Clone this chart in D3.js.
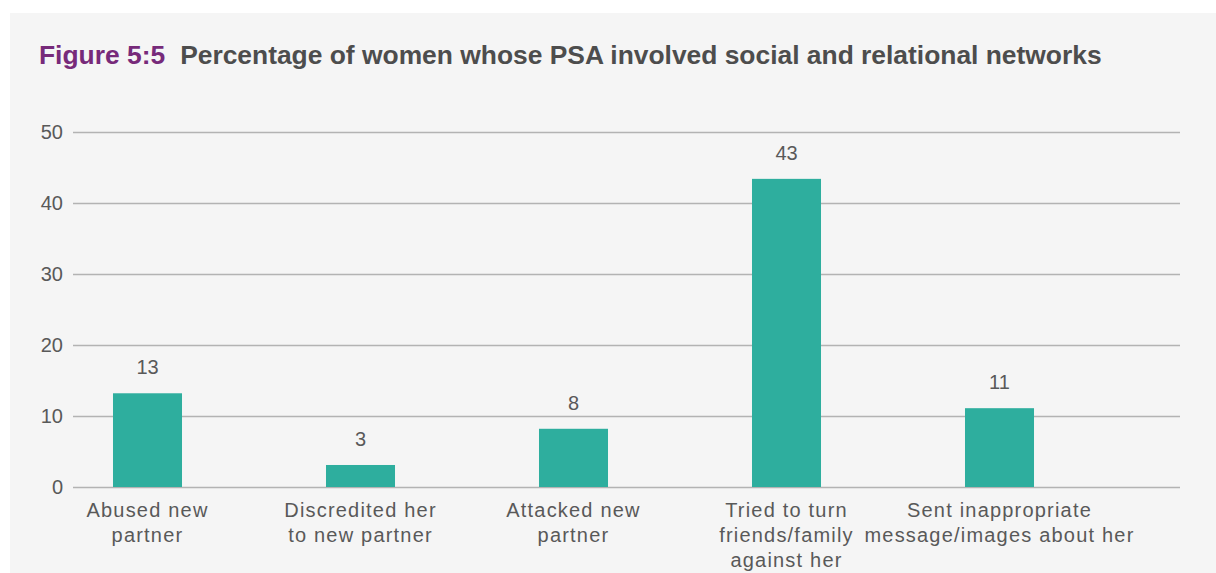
<!DOCTYPE html>
<html>
<head>
<meta charset="utf-8">
<script src="https://cdn.jsdelivr.net/npm/d3@7"></script>
<style>
  html, body { margin: 0; padding: 0; background: #ffffff; }
  svg { display: block; font-family: "Liberation Sans", Arial, sans-serif; }
</style>
</head>
<body>
<svg id="chart" width="1216" height="573"></svg>
<script>
const categories = [
  ["Abused new", "partner"],
  ["Discredited her", "to new partner"],
  ["Attacked new", "partner"],
  ["Tried to turn", "friends/family", "against her"],
  ["Sent inappropriate", "message/images about her"]
];
const values = [13.2, 3.1, 8.2, 43.4, 11.1];
const valueLabels = ["13", "3", "8", "43", "11"];
const yTicks = [0, 10, 20, 30, 40, 50];
const titlePrefix = "Figure 5:5";
const titleText = "Percentage of women whose PSA involved social and relational networks";

const svg = d3.select("#chart");
const W = 1216, H = 573;

// panel background
svg.append("rect").attr("x", 10).attr("y", 13).attr("width", W - 10).attr("height", H - 13)
  .attr("fill", "#f5f5f5");

// title
const title = svg.append("text").attr("x", 39).attr("y", 64)
  .attr("font-size", 26.4).attr("font-weight", "bold");
title.append("tspan").attr("fill", "#772a7a").text(titlePrefix);
title.append("tspan").attr("fill", "#4d4d4d").attr("dx", 15).text(titleText);

const y = d3.scaleLinear().domain([0, 50]).range([487, 132]);
const x = d3.scaleBand().domain(d3.range(categories.length))
  .range([41, 1106]).paddingInner(0.676).paddingOuter(0.338);

const gridLeft = 73, gridRight = 1180;

// gridlines via axis
const yAxis = d3.axisLeft(y).tickValues(yTicks).tickSize(-(gridRight - gridLeft)).tickPadding(10);
const gy = svg.append("g").attr("transform", `translate(${gridLeft},0)`).call(yAxis);
gy.select(".domain").remove();
gy.selectAll(".tick line").attr("stroke", "#b3b3b3").attr("stroke-width", 1.3);
gy.selectAll(".tick text").attr("fill", "#595959").attr("font-size", 20)
  .attr("font-family", "Liberation Sans, Arial, sans-serif");

// bars
svg.append("g").selectAll("rect").data(values).join("rect")
  .attr("x", (d, i) => x(i))
  .attr("width", x.bandwidth())
  .attr("y", d => y(d))
  .attr("height", d => y(0) - y(d))
  .attr("fill", "#2eae9e");

// value labels
svg.append("g").selectAll("text").data(values).join("text")
  .attr("x", (d, i) => x(i) + x.bandwidth() / 2)
  .attr("y", d => y(d) - 19)
  .attr("text-anchor", "middle")
  .attr("fill", "#595959").attr("font-size", 20)
  .text((d, i) => valueLabels[i]);

// category labels
const cg = svg.append("g");
categories.forEach((lines, i) => {
  const t = cg.append("text")
    .attr("text-anchor", "middle")
    .attr("fill", "#595959").attr("font-size", 20)
    .attr("letter-spacing", 1.2);
  lines.forEach((ln, j) => {
    t.append("tspan").attr("x", x(i) + x.bandwidth() / 2).attr("y", 517 + j * 25).text(ln);
  });
});
</script>
</body>
</html>
